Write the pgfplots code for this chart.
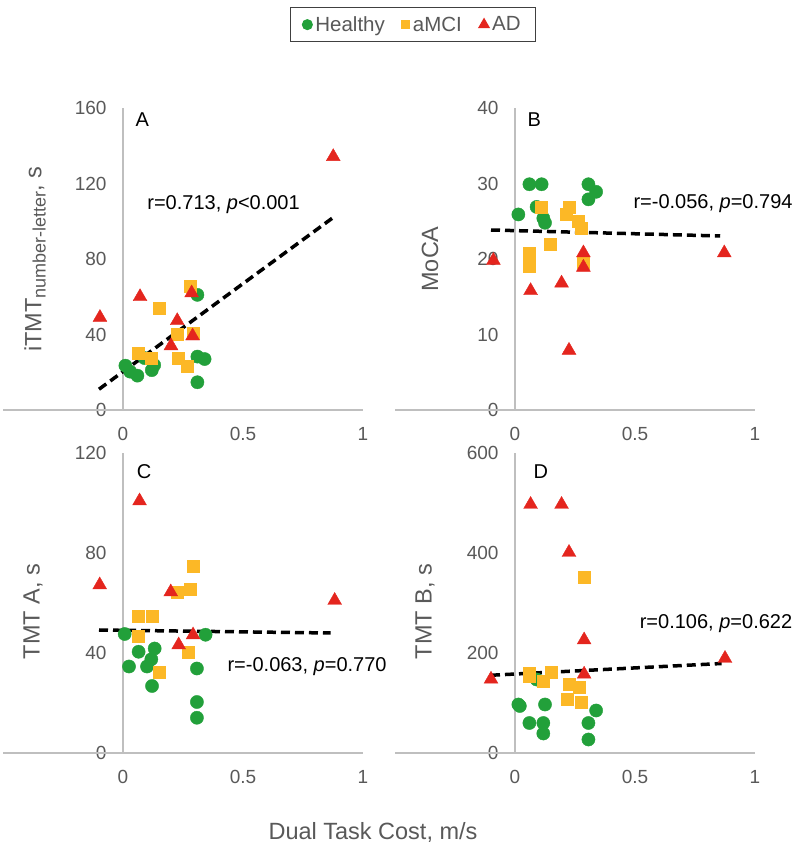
\documentclass[border=0pt]{standalone}
\usepackage{fontspec}
\setmainfont{Liberation Sans}
\usepackage{pgfplots}
\pgfplotsset{compat=1.18}
\definecolor{hgreen}{RGB}{34,160,58}
\definecolor{mgold}{RGB}{252,184,38}
\definecolor{adred}{RGB}{228,37,30}
\definecolor{tickgray}{RGB}{89,89,89}
\definecolor{axgray}{RGB}{191,191,191}
\newcommand{\tfont}{\fontsize{19}{21}\selectfont}
\newcommand{\rfont}{\fontsize{20}{22}\selectfont}
\newcommand{\lfont}{\fontsize{23.5}{25}\selectfont}
\pgfplotsset{
  panel/.style={
    scale only axis, width=360pt,
    xmin=-0.5, xmax=1, ymin=0,
    axis line style={draw=none},
    xtick={0,0.5,1},
    major tick length=0pt,
    tick label style={font=\tfont, text=tickgray},
    /pgf/number format/assume math mode=true,
    xticklabel style={yshift=-14pt},
    yticklabel style={xshift=107pt},
    clip=false,
  },
  hpts/.style={only marks, mark=*, color=hgreen, mark size=6.6pt, legend image post style={mark size=5pt}},
  mpts/.style={only marks, mark=square*, color=mgold, mark size=6pt, legend image post style={mark size=4pt}},
  apts/.style={only marks, mark=triangle*, color=adred, mark size=8pt, legend image post style={mark size=6pt}},
  trend/.style={black, line width=3.5pt, dash pattern=on 9pt off 5pt, no markers, forget plot},
}
\newcommand{\axlines}[1]{%
  \draw[axgray, line width=1.2pt] (axis cs:-0.5,0) -- (axis cs:1,0);
  \draw[axgray, line width=1.2pt] (axis cs:0,0) -- (axis cs:0,#1);}
\begin{document}
\begin{tikzpicture}
\path[use as bounding box] (0,0) rectangle (800pt,846pt);

% Panel A
\begin{axis}[panel, at={(3pt,436pt)}, anchor=south west, height=302pt,
  ymax=160, ytick={0,40,80,120,160},
  legend columns=3,
  legend image code/.code={\draw[mark repeat=2,mark phase=2,#1] plot coordinates {(0pt,0pt) (5pt,0pt) (10pt,0pt)};},
  legend style={at={(axis description cs:1.139,1.276)}, anchor=center,
    draw=black!75, line width=1pt, font=\fontsize{20.5}{22}\selectfont, text=tickgray,
    inner xsep=12pt, inner ysep=7pt,
    nodes={inner xsep=3pt},
    /tikz/every even column/.append style={column sep=14pt}},
]
\axlines{160}
\addplot[hpts] coordinates {(0.01,23.5) (0.03,20.3) (0.06,18.2) (0.09,27.5) (0.12,21.1) (0.13,23.8) (0.31,61) (0.31,28.3) (0.34,27) (0.31,14.7)};
\addlegendentry{Healthy}
\addplot[mpts] coordinates {(0.064,30) (0.119,27.7) (0.151,53.9) (0.224,40.3) (0.228,27.4) (0.269,23.3) (0.279,65.7) (0.293,40.6)};
\addlegendentry{aMCI}
\addplot[apts] coordinates {(-0.096,49) (0.071,60) (0.286,62) (0.226,47.3) (0.2,34) (0.29,39.2) (0.876,134.2)};
\addlegendentry{AD}
\addplot[trend] coordinates {(-0.1,11) (0.876,102)};
\node[font=\fontsize{20}{22}\selectfont] at (axis cs:0.08,153.6) {A};
\node[font=\rfont] at (axis cs:0.419,108.6) {r=0.713, \textit{p}<0.001};
\end{axis}

% Panel B
\begin{axis}[panel, at={(395pt,436pt)}, anchor=south west, height=302pt,
  ymax=40, ytick={0,10,20,30,40}]
\axlines{40}
\addplot[hpts] coordinates {(0.014,25.9) (0.06,29.9) (0.111,29.9) (0.09,26.9) (0.118,25.4) (0.125,24.8) (0.306,29.9) (0.338,28.9) (0.306,27.9)};
\addplot[mpts] coordinates {(0.111,26.9) (0.06,20.8) (0.06,19.0) (0.146,21.9) (0.225,26.9) (0.212,25.9) (0.264,25.0) (0.274,24.1) (0.285,19.6)};
\addplot[apts] coordinates {(-0.09,19.8) (0.065,15.8) (0.194,16.8) (0.225,7.9) (0.285,20.8) (0.285,18.9) (0.872,20.8)};
\addplot[trend] coordinates {(-0.1,23.84) (0.855,23.05)};
\node[font=\fontsize{20}{22}\selectfont] at (axis cs:0.08,38.4) {B};
\node[font=\rfont] at (axis cs:0.825,27.4) {r=-0.056, \textit{p}=0.794};
\end{axis}

% Panel C
\begin{axis}[panel, at={(3pt,93pt)}, anchor=south west, height=300pt,
  ymax=120, ytick={0,40,80,120}]
\axlines{120}
\addplot[hpts] coordinates {(0.007,47.6) (0.025,34.6) (0.065,40.5) (0.132,41.8) (0.118,37.5) (0.1,34.6) (0.121,26.8) (0.308,33.8) (0.308,20.4) (0.308,14.1) (0.344,47.3)};
\addplot[mpts] coordinates {(0.063,54.6) (0.121,54.6) (0.063,46.9) (0.15,32.4) (0.225,64.4) (0.28,65.7) (0.292,74.7) (0.271,40.5)};
\addplot[apts] coordinates {(-0.097,67.2) (0.069,100.8) (0.199,64.4) (0.232,43.2) (0.292,47.2) (0.882,61.0)};
\addplot[trend] coordinates {(-0.1,49.2) (0.865,48.0)};
\node[font=\fontsize{20}{22}\selectfont] at (axis cs:0.088,112.4) {C};
\node[font=\rfont] at (axis cs:0.767,34.4) {r=-0.063, \textit{p}=0.770};
\end{axis}

% Panel D
\begin{axis}[panel, at={(395pt,93pt)}, anchor=south west, height=300pt,
  ymax=600, ytick={0,200,400,600}]
\axlines{600}
\addplot[hpts] coordinates {(0.014,97) (0.02,94) (0.06,60) (0.125,97) (0.118,60) (0.118,39) (0.306,60) (0.338,85) (0.306,27) (0.09,147)};
\addplot[mpts] coordinates {(0.06,159) (0.06,153) (0.118,144) (0.149,161) (0.225,137) (0.268,131) (0.218,107) (0.275,100.6) (0.288,352)};
\addplot[apts] coordinates {(-0.1,147.5) (0.065,497) (0.194,497) (0.225,401) (0.288,226) (0.288,157.5) (0.875,189)};
\addplot[trend] coordinates {(-0.1,155.5) (0.861,179)};
\node[font=\fontsize{20}{22}\selectfont] at (axis cs:0.108,562) {D};
\node[font=\rfont] at (axis cs:0.8375,258) {r=0.106, \textit{p}=0.622};
\end{axis}

% axis titles
\node[rotate=90, font=\lfont, text=tickgray] at (35pt,587pt) {iTMT\raisebox{-0.35ex}{\fontsize{18}{19}\selectfont number-letter}, s};
\node[rotate=90, font=\lfont, text=tickgray] at (430pt,587pt) {MoCA};
\node[rotate=90, font=\lfont, text=tickgray] at (33pt,234.5pt) {TMT A, s};
\node[rotate=90, font=\lfont, text=tickgray] at (425pt,234.5pt) {TMT B, s};
\node[font=\lfont, text=tickgray] at (373pt,14pt) {Dual Task Cost, m/s};
\end{tikzpicture}
\end{document}
